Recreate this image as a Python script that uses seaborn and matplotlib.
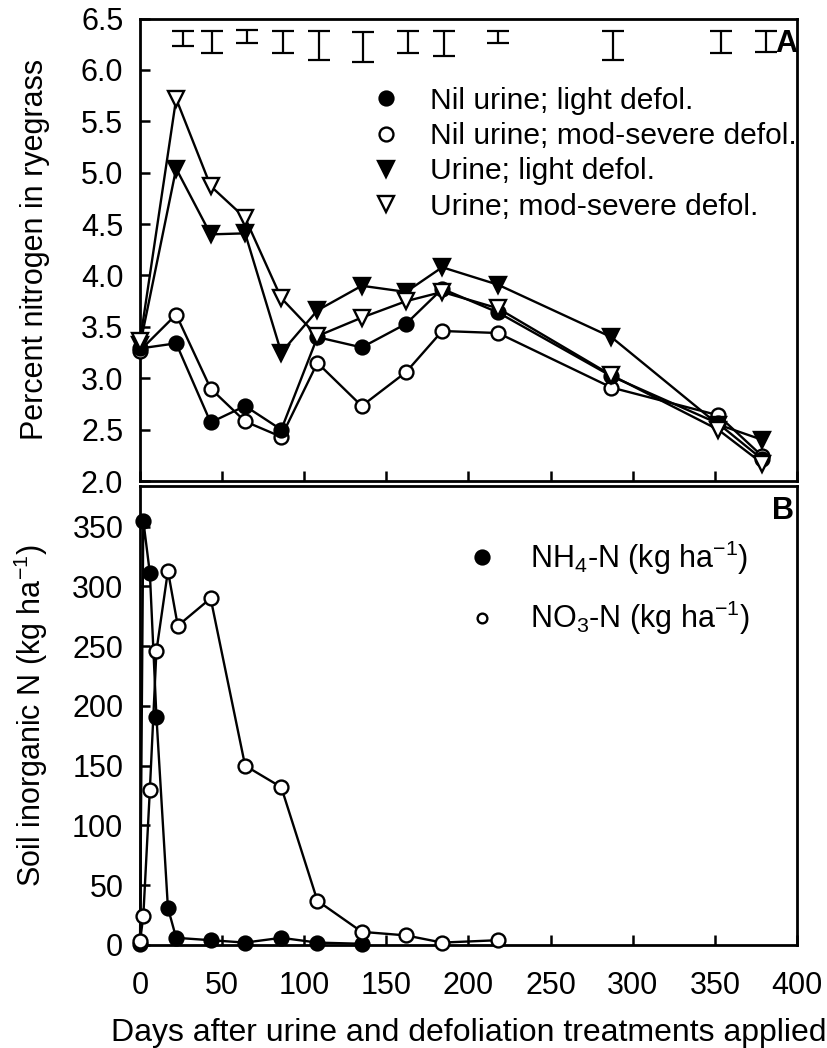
import matplotlib
matplotlib.use("Agg")
import matplotlib.pyplot as plt
from matplotlib.lines import Line2D
import seaborn as sns
import pandas as pd

# ---- Panel A: percent N in ryegrass ----
days_a = [0, 22, 43, 64, 86, 108, 135, 162, 184, 218, 287, 352, 379]
nil_light = [3.29, 3.34, 2.57, 2.73, 2.50, 3.40, 3.30, 3.53, 3.87, 3.64, 3.02, 2.56, 2.21]
nil_severe = [3.27, 3.62, 2.90, 2.58, 2.43, 3.15, 2.73, 3.06, 3.46, 3.44, 2.91, 2.64, 2.24]
urine_light = [3.32, 5.04, 4.40, 4.41, 3.25, 3.66, 3.90, 3.84, 4.08, 3.91, 3.40, 2.55, 2.40]
urine_severe = [3.36, 5.72, 4.87, 4.56, 3.78, 3.41, 3.59, 3.75, 3.84, 3.68, 3.03, 2.50, 2.17]

labels_a = ["Nil urine; light defol.", "Nil urine; mod-severe defol.",
            "Urine; light defol.", "Urine; mod-severe defol."]

# LSD bars along the top of panel A
lsd_days = [26, 44, 65, 87, 109, 136, 163, 185, 218, 288, 354, 381]
lsd_top = [6.38, 6.38, 6.39, 6.38, 6.38, 6.37, 6.38, 6.38, 6.38, 6.38, 6.38, 6.38]
lsd_bottom = [6.235, 6.16, 6.26, 6.16, 6.10, 6.08, 6.16, 6.14, 6.26, 6.10, 6.16, 6.17]

# ---- Panel B: soil inorganic N ----
days_nh4 = [0, 2, 6, 10, 17, 22, 43, 64, 86, 108, 135]
nh4 = [1, 355, 311, 191, 31, 6, 4, 2, 6, 2, 1]
days_no3 = [0, 2, 6, 10, 17, 23, 43, 64, 86, 108, 135, 162, 184, 218]
no3 = [3, 24, 130, 246, 313, 267, 290, 150, 132, 37, 11, 8, 2, 4]

labels_b = ["NH$_4$-N (kg ha$^{-1}$)", "NO$_3$-N (kg ha$^{-1}$)"]

sns.set_theme(style="white")
plt.rcParams["font.family"] = ["Liberation Sans", "DejaVu Sans"]
plt.rcParams["mathtext.default"] = "regular"
plt.rcParams["axes.linewidth"] = 2.0
plt.rcParams["text.color"] = "black"
plt.rcParams["axes.labelcolor"] = "black"

FS = 22
fig = plt.figure(figsize=(8.27, 10.48), dpi=100)
ax_a = fig.add_axes([0.1693, 0.5410, 0.7944, 0.4413])
ax_b = fig.add_axes([0.1693, 0.0983, 0.7944, 0.4380])

LW = 1.7
MS = 10

def draw(ax, x, y, marker, filled, ms=MS):
    df = pd.DataFrame({"x": x, "y": y})
    sns.lineplot(data=df, x="x", y="y", ax=ax, color="black", linewidth=LW,
                 marker=marker, markersize=ms, markeredgewidth=1.7,
                 markerfacecolor="black" if filled else "white",
                 markeredgecolor="black", sort=False, estimator=None,
                 clip_on=False, zorder=3)

draw(ax_a, days_a, nil_severe, "o", False)
draw(ax_a, days_a, nil_light, "o", True)
draw(ax_a, days_a, urine_light, "v", True, ms=11)
draw(ax_a, days_a, urine_severe, "v", False, ms=11)

mid = [(t + b) / 2 for t, b in zip(lsd_top, lsd_bottom)]
half = [(t - b) / 2 for t, b in zip(lsd_top, lsd_bottom)]
ax_a.errorbar(lsd_days, mid, yerr=half, fmt="none", ecolor="black",
              elinewidth=1.6, capsize=8, capthick=1.6)

ax_a.set_xlim(0, 400)
ax_a.set_ylim(2.0, 6.5)
yt = [2.0, 2.5, 3.0, 3.5, 4.0, 4.5, 5.0, 5.5, 6.0, 6.5]
ax_a.set_yticks(yt)
ax_a.set_yticklabels([f"{v:.1f}" for v in yt])
ax_a.set_xticks(range(0, 401, 50))
ax_a.set_xticklabels([])
ax_a.set_xlabel("")
ax_a.set_ylabel("Percent nitrogen in ryegrass", fontsize=FS)
ax_a.yaxis.set_label_coords(-0.137, 0.5)
ax_a.text(1.0, 0.945, "A", transform=ax_a.transAxes, ha="right", va="center",
          fontsize=FS, fontweight="bold")

handles_a = [
    Line2D([], [], ls="none", marker="o", ms=MS, mfc="black", mec="black", mew=1.7),
    Line2D([], [], ls="none", marker="o", ms=MS, mfc="white", mec="black", mew=1.7),
    Line2D([], [], ls="none", marker="v", ms=11, mfc="black", mec="black", mew=1.7),
    Line2D([], [], ls="none", marker="v", ms=11, mfc="white", mec="black", mew=1.7),
]
ax_a.legend(handles_a, labels_a, loc="upper left", bbox_to_anchor=(0.352, 0.852),
            frameon=False, fontsize=21.6, handlelength=1.0, handletextpad=0.95,
            labelspacing=0.24, borderpad=0, borderaxespad=0)

draw(ax_b, days_nh4, nh4, "o", True)
draw(ax_b, days_no3, no3, "o", False)

ax_b.set_xlim(0, 400)
ax_b.set_ylim(0, 384)
ax_b.set_yticks(range(0, 351, 50))
ax_b.set_xticks(range(0, 401, 50))
ax_b.set_xlabel("Days after urine and defoliation treatments applied",
                fontsize=23, labelpad=12)
ax_b.set_ylabel("Soil inorganic N (kg ha$^{-1}$)", fontsize=FS)
ax_b.yaxis.set_label_coords(-0.137, 0.5)
ax_b.text(0.995, 0.945, "B", transform=ax_b.transAxes, ha="right", va="center",
          fontsize=FS, fontweight="bold")

handles_b = [
    Line2D([], [], ls="none", marker="o", ms=MS, mfc="black", mec="black", mew=1.7),
    Line2D([], [], ls="none", marker="o", ms=7, mfc="white", mec="black", mew=1.7),
]
ax_b.legend(handles_b, labels_b, loc="upper left", bbox_to_anchor=(0.498, 0.885),
            frameon=False, fontsize=FS, handlelength=1.0, handletextpad=1.05,
            labelspacing=0.72, borderpad=0, borderaxespad=0)

for ax in (ax_a, ax_b):
    for s in ax.spines.values():
        s.set_visible(True)
        s.set_color("black")
        s.set_linewidth(2.0)
    ax.tick_params(axis="both", which="major", direction="in", length=7,
                   width=1.8, labelsize=FS, colors="black")
    ax.tick_params(axis="y", pad=12)
    ax.tick_params(axis="x", pad=19)
    ax.tick_params(top=False, right=False, left=True, bottom=True)
    ax.grid(False)

fig.savefig("out.png", dpi=100, facecolor="white")
